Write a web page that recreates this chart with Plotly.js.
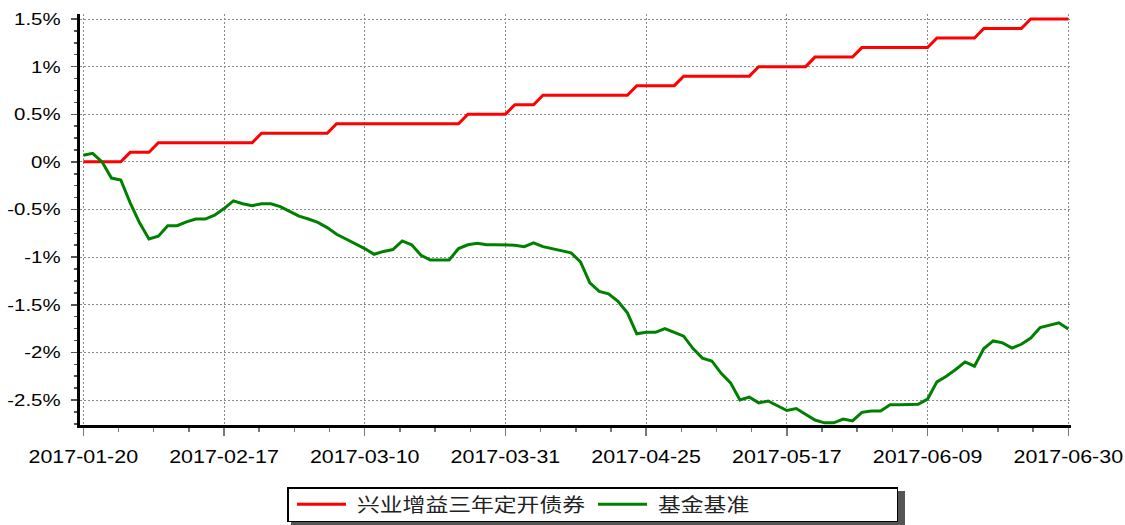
<!DOCTYPE html>
<html><head><meta charset="utf-8">
<script src="https://cdn.plot.ly/plotly-3.0.1.min.js"></script>
<style>html,body{margin:0;padding:0;background:#fff;} #chart{width:1125px;height:525px;}</style>
</head><body><div id="chart"></div>
<script>
// Trading days shown on the chart (category order)
const dates = [
 '2017-01-20','2017-01-23','2017-01-24','2017-01-25','2017-01-26',
 '2017-02-03','2017-02-06','2017-02-07','2017-02-08','2017-02-09','2017-02-10',
 '2017-02-13','2017-02-14','2017-02-15','2017-02-16','2017-02-17',
 '2017-02-20','2017-02-21','2017-02-22','2017-02-23','2017-02-24',
 '2017-02-27','2017-02-28','2017-03-01','2017-03-02','2017-03-03',
 '2017-03-06','2017-03-07','2017-03-08','2017-03-09','2017-03-10',
 '2017-03-13','2017-03-14','2017-03-15','2017-03-16','2017-03-17',
 '2017-03-20','2017-03-21','2017-03-22','2017-03-23','2017-03-24',
 '2017-03-27','2017-03-28','2017-03-29','2017-03-30','2017-03-31',
 '2017-04-05','2017-04-06','2017-04-07',
 '2017-04-10','2017-04-11','2017-04-12','2017-04-13','2017-04-14',
 '2017-04-17','2017-04-18','2017-04-19','2017-04-20','2017-04-21',
 '2017-04-24','2017-04-25','2017-04-26','2017-04-27','2017-04-28',
 '2017-05-02','2017-05-03','2017-05-04','2017-05-05',
 '2017-05-08','2017-05-09','2017-05-10','2017-05-11','2017-05-12',
 '2017-05-15','2017-05-16','2017-05-17','2017-05-18','2017-05-19',
 '2017-05-22','2017-05-23','2017-05-24','2017-05-25','2017-05-26',
 '2017-05-31','2017-06-01','2017-06-02',
 '2017-06-05','2017-06-06','2017-06-07','2017-06-08','2017-06-09',
 '2017-06-12','2017-06-13','2017-06-14','2017-06-15','2017-06-16',
 '2017-06-19','2017-06-20','2017-06-21','2017-06-22','2017-06-23',
 '2017-06-26','2017-06-27','2017-06-28','2017-06-29','2017-06-30'
];

const fundName = '兴业增益三年定开债券';
const benchName = '基金基准';

// cumulative return, %
const fundReturn = [
 0,0,0,0,0,
 0.1,0.1,0.1,
 0.2,0.2,0.2,0.2,0.2,0.2,0.2,0.2,0.2,0.2,0.2,
 0.3,0.3,0.3,0.3,0.3,0.3,0.3,0.3,
 0.4,0.4,0.4,0.4,0.4,0.4,0.4,0.4,0.4,0.4,0.4,0.4,0.4,0.4,
 0.5,0.5,0.5,0.5,0.5,
 0.6,0.6,0.6,
 0.7,0.7,0.7,0.7,0.7,0.7,0.7,0.7,0.7,0.7,
 0.8,0.8,0.8,0.8,0.8,
 0.9,0.9,0.9,0.9,0.9,0.9,0.9,0.9,
 1.0,1.0,1.0,1.0,1.0,1.0,
 1.1,1.1,1.1,1.1,1.1,
 1.2,1.2,1.2,1.2,1.2,1.2,1.2,1.2,
 1.3,1.3,1.3,1.3,1.3,
 1.4,1.4,1.4,1.4,1.4,
 1.5,1.5,1.5,1.5,1.5
];

const benchReturn = [
 0.07, 0.09, 0.00, -0.17, -0.19, -0.43, -0.64, -0.81, -0.78, -0.67,
 -0.67, -0.63, -0.60, -0.60, -0.56, -0.49, -0.41, -0.44, -0.46, -0.44,
 -0.44, -0.47, -0.52, -0.57, -0.60, -0.635, -0.69, -0.76, -0.81, -0.86,
 -0.91, -0.97, -0.94, -0.92, -0.83, -0.87, -0.98, -1.03, -1.03, -1.03,
 -0.91, -0.87, -0.855, -0.87, -0.87, -0.87, -0.875, -0.89, -0.85, -0.89,
 -0.91, -0.93, -0.955, -1.05, -1.27, -1.36, -1.385, -1.465, -1.585, -1.805,
 -1.79, -1.79, -1.75, -1.79, -1.83, -1.96, -2.06, -2.09, -2.22, -2.32,
 -2.50, -2.47, -2.53, -2.51, -2.56, -2.61, -2.59, -2.65, -2.71, -2.74,
 -2.74, -2.70, -2.72, -2.63, -2.615, -2.615, -2.55, -2.55, -2.55, -2.545,
 -2.49, -2.31, -2.25, -2.18, -2.10, -2.145, -1.96, -1.88, -1.90, -1.955,
 -1.915, -1.85, -1.74, -1.715, -1.69, -1.755
];

const xTickDates = ['2017-01-20','2017-02-17','2017-03-10','2017-03-31','2017-04-25','2017-05-17','2017-06-09','2017-06-30'];
const yTickVals = [-2.5,-2,-1.5,-1,-0.5,0,0.5,1,1.5];
const yTickText = ['-2.5%','-2%','-1.5%','-1%','-0.5%','0%','0.5%','1%','1.5%'];

const xIdx = dates.map((d, i) => i);
const xTickVals = xTickDates.map(d => dates.indexOf(d));

const M = {l: 80, r: 54, t: 14, b: 100};
const W = 1125, H = 525;
const pw = W - M.l - M.r, ph = H - M.t - M.b;
const px2paperX = p => (p - M.l) / pw;
const px2paperY = p => (H - M.b - p) / ph;

const traces = [
  {x: xIdx, y: fundReturn, customdata: dates, name: fundName, type: 'scatter', mode: 'lines',
   line: {color: '#ff0000', width: 3}, hovertemplate: '%{customdata}: %{y}%<extra></extra>'},
  {x: xIdx, y: benchReturn, customdata: dates, name: benchName, type: 'scatter', mode: 'lines',
   line: {color: '#008000', width: 3}, hovertemplate: '%{customdata}: %{y}%<extra></extra>'}
];

const tickFont = {family: 'Liberation Sans, Arial, sans-serif', color: '#000'};

const LEG_LEFT = 287, LEG_TOP = 484;

const layout = {
  width: W, height: H,
  margin: Object.assign({autoexpand: false}, M),
  paper_bgcolor: '#fff', plot_bgcolor: '#fff',
  showlegend: true,
  xaxis: {
    range: [-0.35, 105.29], tickmode: 'array', tickvals: xTickVals, ticktext: xTickDates,
    showgrid: true, gridcolor: '#8a8a8a', griddash: '2px,2px', gridwidth: 1,
    showline: true, linecolor: '#000', linewidth: 3, zeroline: false,
    ticks: 'outside', ticklen: 8, tickwidth: 1.5, tickcolor: '#777',
    ticklabelstandoff: 5,
    tickfont: Object.assign({size: 18}, tickFont),
    minor: {tickmode: 'linear', tick0: 0, dtick: 3.75, ticks: 'outside', ticklen: 4, tickwidth: 1.5, tickcolor: '#777', showgrid: false},
    fixedrange: true
  },
  yaxis: {
    range: [-2.7625, 1.5525], tickmode: 'array', tickvals: yTickVals, ticktext: yTickText,
    showgrid: true, gridcolor: '#8a8a8a', griddash: '2px,2px', gridwidth: 1,
    showline: true, linecolor: '#000', linewidth: 3, zeroline: false,
    ticks: 'outside', ticklen: 6, tickwidth: 1.5, tickcolor: '#555',
    ticklabelstandoff: 7,
    tickfont: Object.assign({size: 17}, tickFont),
    minor: {tickmode: 'linear', tick0: 0, dtick: 0.125, ticks: 'outside', ticklen: 3, tickwidth: 1.5, tickcolor: '#555', showgrid: false},
    fixedrange: true
  },
  legend: {
    orientation: 'h', xref: 'container', yref: 'container',
    x: LEG_LEFT / W, xanchor: 'left', y: 1 - LEG_TOP / H, yanchor: 'top',
    bgcolor: '#fff', bordercolor: '#000', borderwidth: 1.5,
    font: {family: 'Noto Sans CJK SC, sans-serif', size: 19, color: '#222'},
    itemwidth: 49, entrywidth: 245, traceorder: 'normal'
  },
  shapes: [{
    type: 'rect', xref: 'paper', yref: 'paper', layer: 'above',
    x0: px2paperX(291), x1: px2paperX(905), y0: px2paperY(528), y1: px2paperY(491),
    fillcolor: '#555', line: {width: 0}
  }]
};

function stretch(sel, f) {
  document.querySelectorAll(sel).forEach(t => {
    const L = t.getComputedTextLength();
    if (L > 0) {
      t.setAttribute('textLength', (L * f).toFixed(1));
      t.setAttribute('lengthAdjust', 'spacingAndGlyphs');
    }
  });
}

function tuneLegend() {
  // legend item origins (px from legend box left) and text offset
  const itemX = [5, 306];
  document.querySelectorAll('.legend .traces').forEach((g, i) => {
    const m = /translate\(\s*([-\d.]+)[ ,]+([-\d.]+)\s*\)/.exec(g.getAttribute('transform') || '');
    const y = m ? parseFloat(m[2]) : 0;
    if (i < itemX.length) g.setAttribute('transform', 'translate(' + itemX[i] + ',' + y + ')');
    const t = g.querySelector('.legendtext');
    if (t) t.setAttribute('x', 65);
  });
  const bg = document.querySelector('.legend rect.bg');
  if (bg) {
    bg.setAttribute('y', 3.75);
    bg.setAttribute('height', 33.5);
    bg.setAttribute('width', 898 - LEG_LEFT - 1.5);
  }
}

Plotly.newPlot('chart', traces, layout, {displayModeBar: false, staticPlot: true}).then(() => {
  stretch('.xtick text', 1.19);
  stretch('.ytick text', 1.2);
  stretch('.legendtext', 1.2);
  tuneLegend();
});
</script>
</body></html>
